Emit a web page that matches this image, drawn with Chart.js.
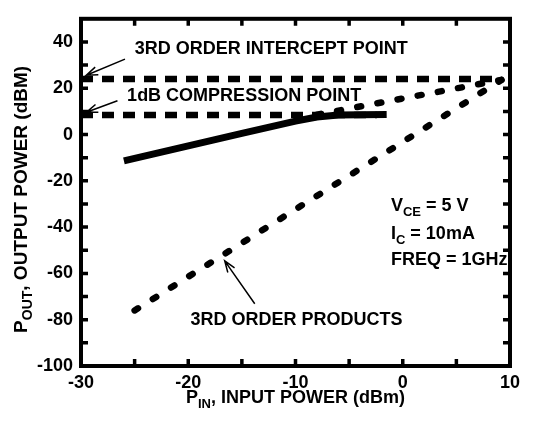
<!DOCTYPE html>
<html>
<head>
<meta charset="utf-8">
<script src="https://cdn.jsdelivr.net/npm/chart.js@4.4.1/dist/chart.umd.min.js"></script>
<style>
  body { margin: 0; background: #fff; }
  #wrap { width: 536px; height: 421px; }
</style>
</head>
<body>
<div id="wrap"><canvas id="chart"></canvas></div>
<script>
"use strict";

// fundamental output power vs input power (dBm)
const fundIn  = [-26, -20, -15, -10, -8, -6, -4, -1.5];
const fundOut = [-11.4, -4.9, 0.5, 5.8, 7.6, 8.4, 8.6, 8.7];
// extrapolated fundamental
const extIn  = [-8, 9.2];
const extOut = [8.6, 23.6];
// 3rd order products
const imdIn  = [-25, 9.2];
const imdOut = [-76, 23.6];
// 3rd order intercept level
const ipIn  = [-30, 9];
const ipOut = [24, 24];
// 1dB compression level
const p1dbIn  = [-30, -2.4];
const p1dbOut = [8.4, 8.4];

const xTickLabels = [-30, -20, -10, 0, 10];
const yTickLabels = [-100, -80, -60, -40, -20, 0, 20, 40];

const FONT = '"Liberation Sans", Arial, sans-serif';

function pts(xs, ys) {
    return xs.map((v, i) => ({x: v, y: ys[i]}));
}

// labels and arrows, placed in data units
const notes = [
    {text: '3RD ORDER INTERCEPT POINT', x: -25, y: 37},
    {text: '1dB COMPRESSION POINT', x: -25.7, y: 16.8},
    {text: '3RD ORDER PRODUCTS', x: -19.8, y: -80.3}
];
const arrows = [
    {from: [-25.9, 32.6], to: [-29.5, 25.6]},
    {from: [-26.6, 14.6], to: [-29.5, 9.6]},
    {from: [-13.8, -73.1], to: [-16.6, -54.6]}
];
const conditions = [
    {parts: [['V', false], ['CE', true], [' = 5 V', false]], y: -33.2},
    {parts: [['I', false], ['C', true], [' = 10mA', false]], y: -45},
    {parts: [['FREQ = 1GHz', false]], y: -56.3}
];
const condX = -1.1;

function drawRich(ctx, parts, x, y, align, size) {
    size = size || 18;
    const big = 'bold ' + size + 'px ' + FONT;
    const small = 'bold ' + Math.round(size * 0.72) + 'px ' + FONT;
    let total = 0;
    parts.forEach(p => { ctx.font = p[1] ? small : big; total += ctx.measureText(p[0]).width; });
    let cx = align === 'center' ? x - total / 2 : x;
    ctx.textAlign = 'left';
    ctx.textBaseline = 'alphabetic';
    parts.forEach(p => {
        ctx.font = p[1] ? small : big;
        ctx.fillText(p[0], cx, y + (p[1] ? 5 : 0));
        cx += ctx.measureText(p[0]).width;
    });
}

function arrow(ctx, x0, y0, x1, y1) {
    const ang = Math.atan2(y1 - y0, x1 - x0);
    const len = 12, spread = 0.35;
    ctx.beginPath();
    ctx.moveTo(x0, y0);
    ctx.lineTo(x1, y1);
    ctx.moveTo(x1 - len * Math.cos(ang - spread), y1 - len * Math.sin(ang - spread));
    ctx.lineTo(x1, y1);
    ctx.lineTo(x1 - len * Math.cos(ang + spread), y1 - len * Math.sin(ang + spread));
    ctx.stroke();
}

const decor = {
    id: 'decor',
    afterDraw(chart) {
        const {ctx, chartArea: a, scales: {x, y}} = chart;
        ctx.save();
        ctx.strokeStyle = '#000';
        ctx.fillStyle = '#000';

        // frame
        ctx.lineWidth = 4;
        ctx.strokeRect(a.left, a.top, a.right - a.left, a.bottom - a.top);

        // inward ticks on all four sides
        const tl = 7;
        ctx.lineWidth = 3.5;
        ctx.beginPath();
        x.ticks.forEach(t => {
            if (t.value <= x.min || t.value >= x.max) return;
            const px = x.getPixelForValue(t.value);
            ctx.moveTo(px, a.bottom); ctx.lineTo(px, a.bottom - tl);
            ctx.moveTo(px, a.top); ctx.lineTo(px, a.top + tl);
        });
        y.ticks.forEach(t => {
            if (t.value <= y.min || t.value >= y.max) return;
            const py = y.getPixelForValue(t.value);
            ctx.moveTo(a.left, py); ctx.lineTo(a.left + tl, py);
            ctx.moveTo(a.right, py); ctx.lineTo(a.right - tl, py);
        });
        ctx.stroke();

        // notes
        ctx.font = 'bold 18px ' + FONT;
        ctx.textAlign = 'left';
        ctx.textBaseline = 'middle';
        notes.forEach(n => ctx.fillText(n.text, x.getPixelForValue(n.x), y.getPixelForValue(n.y)));

        ctx.lineWidth = 1.5;
        arrows.forEach(r => arrow(ctx,
            x.getPixelForValue(r.from[0]), y.getPixelForValue(r.from[1]),
            x.getPixelForValue(r.to[0]), y.getPixelForValue(r.to[1])));

        conditions.forEach(c => drawRich(ctx, c.parts, x.getPixelForValue(condX), y.getPixelForValue(c.y), 'left'));

        // axis titles
        drawRich(ctx, [['P', false], ['IN', true], [', INPUT POWER (dBm)', false]],
            (a.left + a.right) / 2, 403, 'center');
        ctx.save();
        ctx.translate(27, (a.top + a.bottom) / 2 + 7);
        ctx.rotate(-Math.PI / 2);
        drawRich(ctx, [['P', false], ['OUT', true], [', OUTPUT POWER (dBM)', false]], 0, 0, 'center', 19);
        ctx.restore();

        ctx.restore();
    }
};

new Chart(document.getElementById('chart'), {
    type: 'line',
    data: {
        datasets: [
            {data: pts(fundIn, fundOut), borderColor: '#000', borderWidth: 7, order: 0},
            {data: pts(extIn, extOut), borderColor: '#000', borderWidth: 6.5,
             borderDash: [4, 16.5], borderCapStyle: 'round', order: 1},
            {data: pts(imdIn, imdOut), borderColor: '#000', borderWidth: 6.5,
             borderDash: [4, 17.5], borderCapStyle: 'round', order: 1},
            {data: pts(ipIn, ipOut), borderColor: '#000', borderWidth: 6.5,
             borderDash: [12, 9], order: 2},
            {data: pts(p1dbIn, p1dbOut), borderColor: '#000', borderWidth: 6.5,
             borderDash: [12, 9], order: 2}
        ]
    },
    options: {
        responsive: true,
        maintainAspectRatio: false,
        animation: false,
        layout: {padding: {top: 9, right: 26, left: 0, bottom: 0}},
        elements: {point: {radius: 0}, line: {tension: 0}},
        plugins: {legend: {display: false}, tooltip: {enabled: false}},
        scales: {
            x: {
                type: 'linear',
                min: -30,
                max: 10,
                afterFit: s => { s.height = 55; },
                grid: {display: false, drawTicks: false},
                border: {display: false},
                ticks: {
                    stepSize: 5,
                    padding: 6,
                    color: '#000',
                    font: {family: FONT, size: 18, weight: 'bold'},
                    maxRotation: 0,
                    autoSkip: false,
                    callback: v => xTickLabels.includes(v) ? String(v) : ''
                }
            },
            y: {
                type: 'linear',
                min: -100,
                max: 50,
                afterFit: s => { s.width = 81; },
                grid: {display: false, drawTicks: false},
                border: {display: false},
                ticks: {
                    stepSize: 10,
                    padding: 8,
                    color: '#000',
                    font: {family: FONT, size: 18, weight: 'bold'},
                    autoSkip: false,
                    callback: v => yTickLabels.includes(v) ? String(v) : ''
                }
            }
        }
    },
    plugins: [decor]
});
</script>
</body>
</html>
